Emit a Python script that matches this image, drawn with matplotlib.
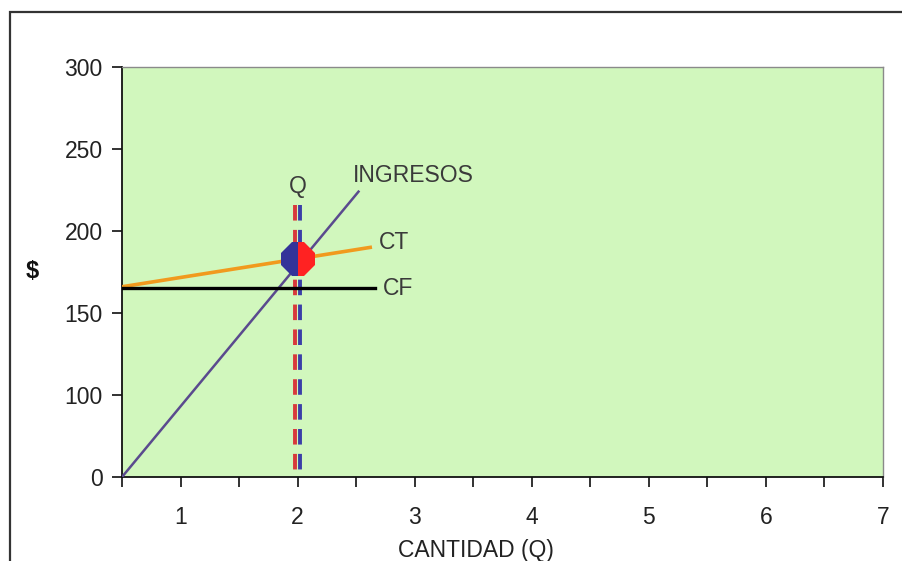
import numpy as np
import matplotlib
matplotlib.use("Agg")
import matplotlib.pyplot as plt
from matplotlib.patches import Rectangle
from matplotlib.transforms import offset_copy

plt.rcParams['font.family'] = ['Liberation Sans', 'DejaVu Sans']

# ---- data ----
ingresos_x = [0.5, 2.52]
ingresos_y = [0, 224]
ct_x = [0.5, 2.62]
ct_y = [166, 190]
cf_x = [0.5, 2.66]
cf_y = [165, 165]
q_value = 2.0
q_top = 216
breakeven_x = [2.0]
breakeven_y = [183]
x_major = [1, 2, 3, 4, 5, 6, 7]
x_minor = [0.5, 1.5, 2.5, 3.5, 4.5, 5.5, 6.5]
y_ticks = [0, 100, 150, 200, 250, 300]
y_tick_labels = ["0", "100", "150", "200", "250", "300"]

# piecewise axis: 0 and 100 one step apart, then steps of 50
_v = [0, 100, 300]
_p = [50, 100, 300]
def fwd(v):
    return np.interp(v, _v, _p)
def inv(p):
    return np.interp(p, _p, _v)

fig = plt.figure(figsize=(9.02, 5.61), dpi=100)
ax = fig.add_axes([122/902, 1-477/561, 761/902, 410/561])
ax.set_yscale('function', functions=(fwd, inv))
ax.set_facecolor('#D1F7BD')
ax.set_xlim(0.5, 7)
ax.set_ylim(0, 300)

ax.plot(ingresos_x, ingresos_y, color='#5A4A8E', lw=1.8, zorder=3)
ax.plot(ct_x, ct_y, color='#F19A1E', lw=2.6, zorder=3)
ax.plot(cf_x, cf_y, color='black', lw=2.4, zorder=3)

tr_l = offset_copy(ax.transData, fig=fig, x=-2.5, y=0, units='dots')
tr_r = offset_copy(ax.transData, fig=fig, x=2.5, y=0, units='dots')
ax.plot([q_value, q_value], [q_top, 0], color='#D8393B', lw=2.8,
        dashes=(4.0, 2.4), transform=tr_l, zorder=2)
ax.plot([q_value, q_value], [q_top, 0], color='#3B3FA8', lw=2.8,
        dashes=(4.0, 2.4), transform=tr_r, zorder=2)

ax.plot(breakeven_x, breakeven_y, linestyle='none', marker='8', markersize=24,
        fillstyle='left', markerfacecolor='#333399', markerfacecoloralt='#FF2222',
        markeredgewidth=0, zorder=5)

tc = '#3a3a3a'
fs = 16.5
ax.text(2.47, 234, "INGRESOS", color=tc, fontsize=fs, va='center', ha='left')
ax.text(2.69, 193, "CT", color=tc, fontsize=fs, va='center', ha='left')
ax.text(2.73, 165, "CF", color=tc, fontsize=fs, va='center', ha='left')
ax.text(2.0, 227, "Q", color=tc, fontsize=fs, va='center', ha='center')

ax.set_xticks(x_major)
ax.set_xticks(x_minor, minor=True)
ax.set_yticks(y_ticks)
ax.set_yticklabels(y_tick_labels)
ax.yaxis.set_minor_locator(matplotlib.ticker.NullLocator())
ax.tick_params(axis='both', which='both', direction='out', length=7, width=1.3,
               color='#222222', labelsize=16.5, labelcolor='#222222')
ax.tick_params(axis='x', pad=14)
ax.tick_params(axis='y', pad=7)

for s in ['left', 'bottom']:
    ax.spines[s].set_color('#111111')
    ax.spines[s].set_linewidth(1.3)
for s in ['top', 'right']:
    ax.spines[s].set_color('#8a8a8a')
    ax.spines[s].set_linewidth(1.0)

fig.text(476/902, 1-550/561, "CANTIDAD (Q)", color='#222222', fontsize=16.5,
         ha='center', va='center')
fig.text(32/902, 1-272/561, "$", color='#111111', fontsize=17, fontweight='bold',
         ha='center', va='center')

fig.add_artist(Rectangle((10/902, -0.1), 1.2, 1.1 - 12/561, transform=fig.transFigure,
                         fill=False, edgecolor='#333333', lw=1.6, clip_on=False))

fig.savefig("out.png", dpi=100)
